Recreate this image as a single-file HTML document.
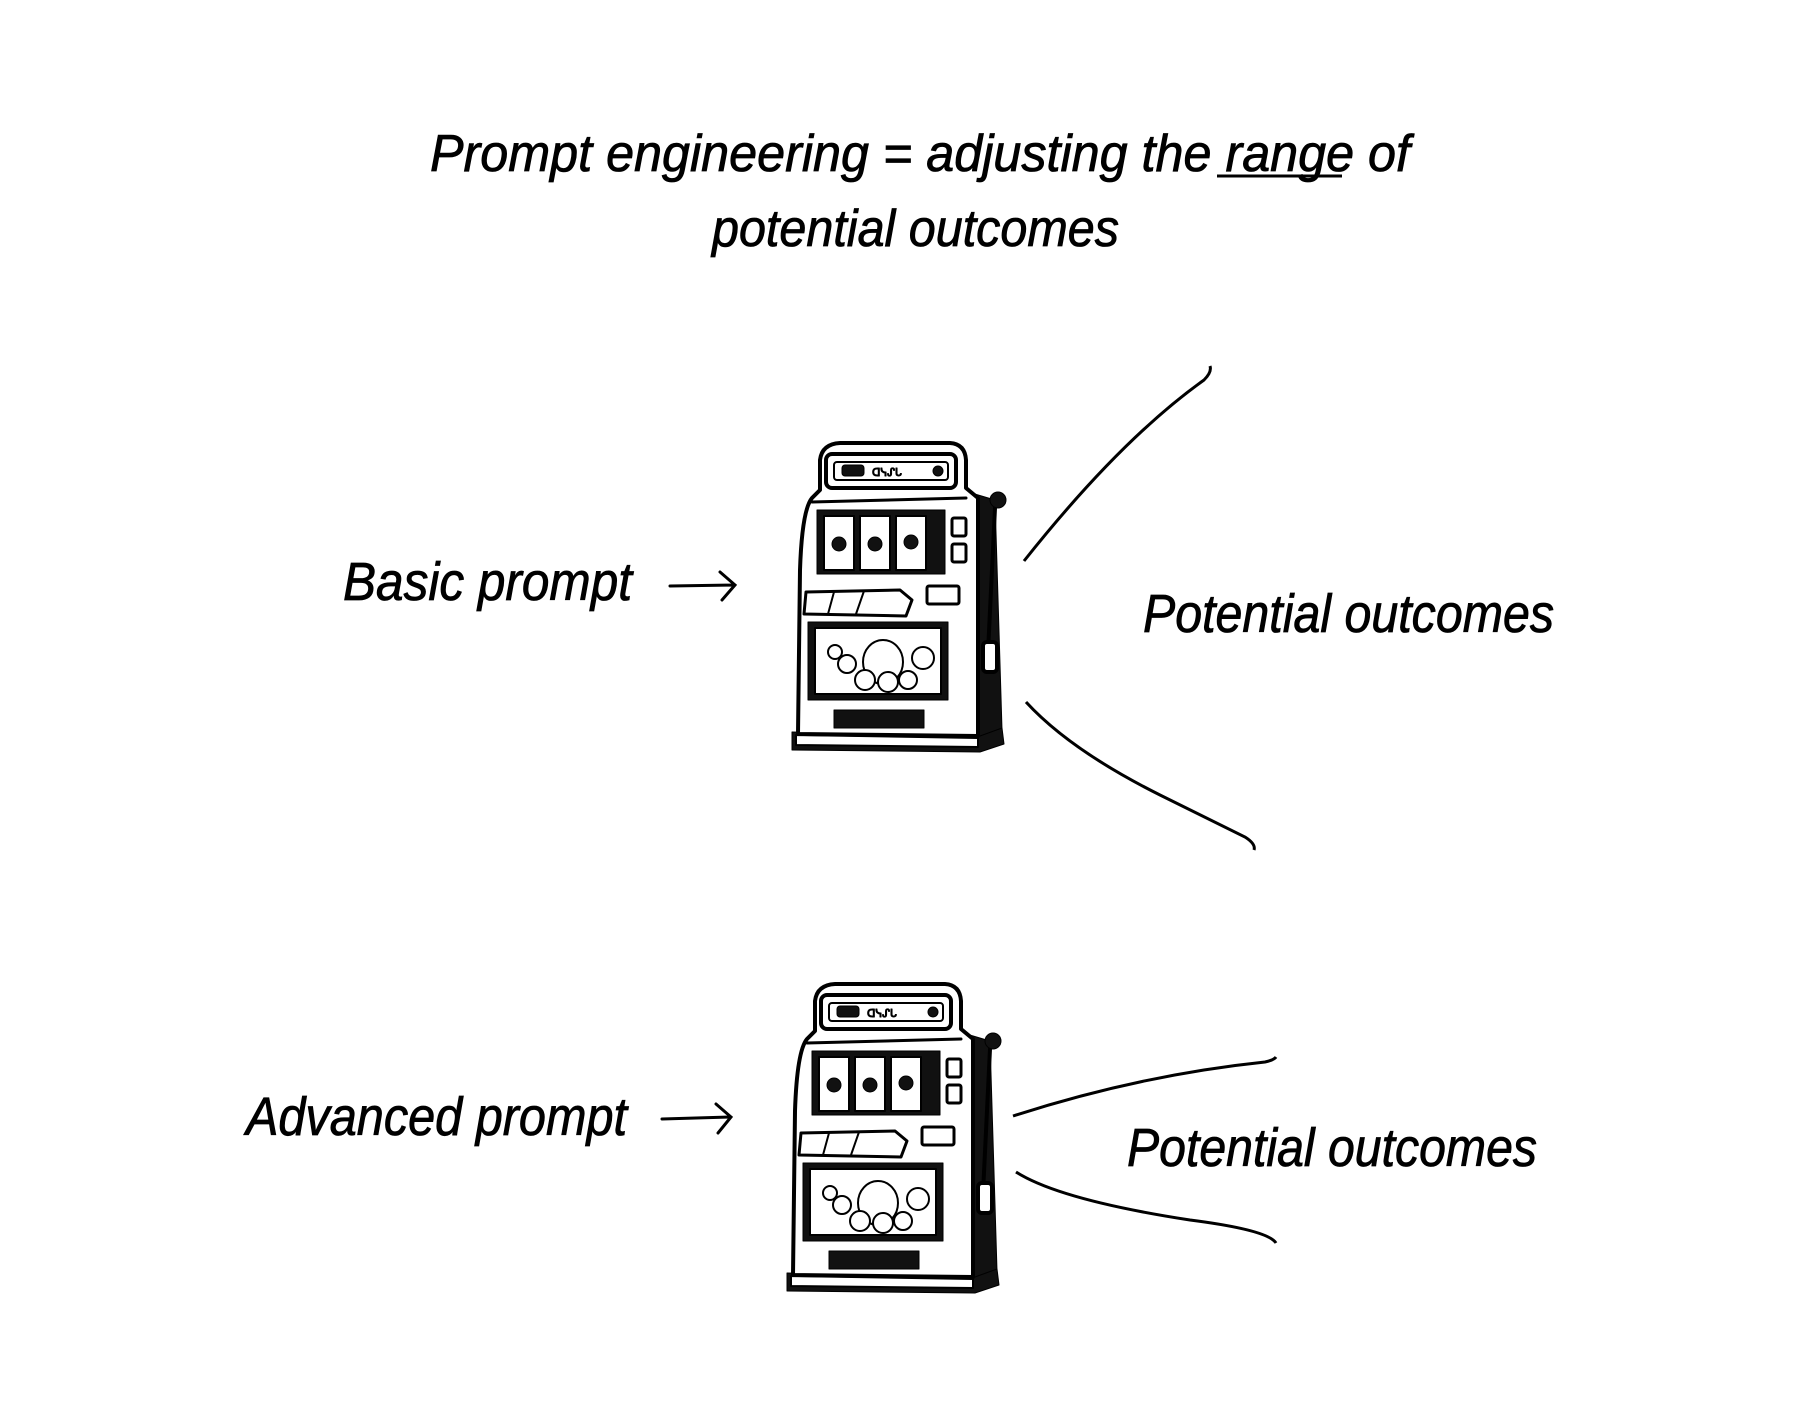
<!DOCTYPE html>
<html><head><meta charset="utf-8"><style>
html,body{margin:0;padding:0;background:#fff;}
svg{display:block;}
text{font-family:"Liberation Sans",sans-serif;font-style:italic;fill:#000;}
.t{stroke:#000;stroke-width:0.8;}
</style></head><body>
<svg width="1800" height="1404" viewBox="0 0 1800 1404" xmlns="http://www.w3.org/2000/svg">
<defs>
<g id="m" stroke="#000" stroke-linejoin="round" stroke-linecap="round">
  <path d="M178 52 L205 60 L212 290 L185 302 Z" fill="#111"/>
  <path d="M2 292 L190 296 L212 288 L214 304 L190 312 L2 310 Z" fill="#111"/>
  <path d="M6 295 L188 298 L188 307 L6 305 Z" fill="#fff" stroke-width="2"/>
  <path d="M30 20 Q32 4 50 3 L160 3 Q175 4 176 20 L176 48 L188 58 L188 296 L8 294 L10 130 Q12 70 22 58 L30 50 Z" fill="#fff" stroke-width="4"/>
  <rect x="36" y="14" width="130" height="34" rx="6" fill="#fff" stroke-width="4"/>
  <rect x="44" y="22" width="114" height="18" rx="3" fill="#fff" stroke-width="2"/>
  <rect x="52" y="25" width="22" height="11" rx="3" fill="#111"/>
  <text x="82" y="36" font-size="11" style="font-style:normal">ᗡᓭᔑᒐ</text>
  <circle cx="148" cy="31" r="5" fill="#111"/>
  <path d="M22 62 L176 58" stroke-width="3" fill="none"/>
  <rect x="27" y="70" width="128" height="64" fill="#111"/>
  <rect x="34" y="76" width="30" height="54" fill="#fff" stroke-width="2"/>
  <rect x="70" y="76" width="30" height="54" fill="#fff" stroke-width="2"/>
  <rect x="106" y="76" width="30" height="54" fill="#fff" stroke-width="2"/>
  <circle cx="49" cy="104" r="7" fill="#111"/>
  <circle cx="85" cy="104" r="7" fill="#111"/>
  <circle cx="121" cy="102" r="7" fill="#111"/>
  <rect x="162" y="78" width="14" height="18" rx="2" fill="#fff" stroke-width="3"/>
  <rect x="162" y="104" width="14" height="18" rx="2" fill="#fff" stroke-width="3"/>
  <path d="M16 152 L110 150 L122 160 L116 176 L14 174 Z" fill="#fff" stroke-width="3"/>
  <path d="M44 152 L38 174 M74 151 L66 174" stroke-width="2"/>
  <rect x="137" y="146" width="32" height="18" rx="2" fill="#fff" stroke-width="3"/>
  <rect x="18" y="182" width="140" height="78" fill="#111"/>
  <rect x="25" y="188" width="126" height="66" fill="#fff" stroke-width="2"/>
  <g fill="#fff" stroke-width="2">
    <ellipse cx="93" cy="222" rx="20" ry="22"/>
    <circle cx="57" cy="224" r="9"/>
    <circle cx="133" cy="218" r="11"/>
    <circle cx="75" cy="240" r="10"/>
    <circle cx="98" cy="242" r="10"/>
    <circle cx="118" cy="240" r="9"/>
    <circle cx="45" cy="212" r="7"/>
  </g>
  <rect x="44" y="270" width="90" height="18" fill="#111"/>
  <path d="M205 68 L198 212" stroke-width="4" fill="none"/>
  <circle cx="208" cy="60" r="8" fill="#111"/>
  <rect x="193" y="202" width="14" height="30" rx="4" fill="#fff" stroke-width="4"/>
</g>
</defs>

<text class="t" x="430" y="171" font-size="52" textLength="980" lengthAdjust="spacingAndGlyphs">Prompt engineering = adjusting the range of</text>
<path d="M1217 176 L1342 176" stroke="#000" stroke-width="3"/>
<text class="t" x="712" y="246" font-size="52" textLength="407" lengthAdjust="spacingAndGlyphs">potential outcomes</text>

<text class="t" x="343" y="600" font-size="54" textLength="289" lengthAdjust="spacingAndGlyphs">Basic prompt</text>
<g stroke="#000" stroke-width="3" fill="none" stroke-linecap="round"><path d="M670 586 L734 585 M720 572 L735 585 L722 600"/></g>
<use href="#m" transform="translate(790,440)"/>
<path d="M1024 561 Q1120 440 1204 380 Q1212 372 1210 366" stroke="#000" stroke-width="3" fill="none"/>
<path d="M1026 702 Q1070 750 1160 795 L1245 837 Q1256 844 1254 850" stroke="#000" stroke-width="3" fill="none"/>
<text class="t" x="1143" y="632" font-size="54" textLength="411" lengthAdjust="spacingAndGlyphs">Potential outcomes</text>

<text class="t" x="246" y="1135" font-size="54" textLength="381" lengthAdjust="spacingAndGlyphs">Advanced prompt</text>
<g stroke="#000" stroke-width="3" fill="none" stroke-linecap="round"><path d="M662 1119 L730 1117 M716 1104 L731 1117 L718 1133"/></g>
<use href="#m" transform="translate(785,981)"/>
<path d="M1013 1116 Q1140 1075 1265 1062 Q1274 1060 1276 1057" stroke="#000" stroke-width="3" fill="none"/>
<path d="M1016 1172 Q1060 1200 1190 1220 Q1268 1230 1276 1243" stroke="#000" stroke-width="3" fill="none"/>
<text class="t" x="1127" y="1166" font-size="54" textLength="410" lengthAdjust="spacingAndGlyphs">Potential outcomes</text>
</svg>
</body></html>
